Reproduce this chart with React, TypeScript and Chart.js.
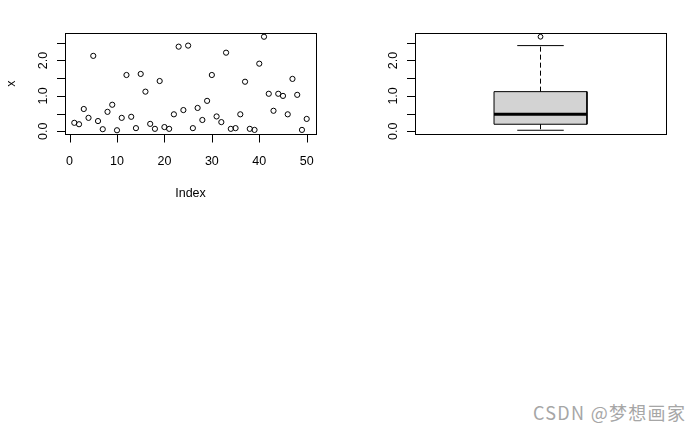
import React, { useEffect, useRef } from "react";
import { Chart, registerables } from "chart.js";

Chart.register(...registerables);

// ---------------- data ----------------
const indexValues = [
  1, 2, 3, 4, 5, 6, 7, 8, 9, 10,
  11, 12, 13, 14, 15, 16, 17, 18, 19, 20,
  21, 22, 23, 24, 25, 26, 27, 28, 29, 30,
  31, 32, 33, 34, 35, 36, 37, 38, 39, 40,
  41, 42, 43, 44, 45, 46, 47, 48, 49, 50,
];
const xValues = [
  0.24, 0.2, 0.63, 0.38, 2.13, 0.29, 0.06, 0.55, 0.75, 0.03,
  0.38, 1.59, 0.41, 0.09, 1.62, 1.12, 0.21, 0.07, 1.42, 0.12,
  0.07, 0.48, 2.39, 0.6, 2.42, 0.09, 0.66, 0.32, 0.86, 1.59,
  0.42, 0.26, 2.22, 0.07, 0.09, 0.48, 1.4, 0.07, 0.04, 1.91,
  2.67, 1.06, 0.58, 1.06, 1.0, 0.48, 1.48, 1.03, 0.04, 0.35,
];
const indexTicks = [0, 10, 20, 30, 40, 50];
const indexTickLabels = ["0", "10", "20", "30", "40", "50"];
const valueTicks = [0, 0.5, 1, 1.5, 2, 2.5];
const valueTickLabels = ["0.0", "", "1.0", "", "2.0", ""];
const xTitleText = "Index";
const yTitleText = "x";
const watermarkText = "CSDN @梦想画家";

// ---------------- helpers ----------------
const FONT = '12.5px "Liberation Sans", Arial, sans-serif';

function fivenum(values: number[]) {
  const s = [...values].sort((a, b) => a - b);
  const n = s.length;
  const n4 = Math.floor((n + 3) / 2) / 2;
  const d = [1, n4, (n + 1) / 2, n + 1 - n4, n];
  return d.map((v) => 0.5 * (s[Math.floor(v) - 1] + s[Math.ceil(v) - 1]));
}

function boxStats(values: number[]) {
  const [, q1, med, q3] = fivenum(values);
  const iqr = q3 - q1;
  const loF = q1 - 1.5 * iqr;
  const hiF = q3 + 1.5 * iqr;
  const inside = values.filter((v) => v >= loF && v <= hiF);
  const outliers = values.filter((v) => v < loF || v > hiF);
  return {
    q1,
    med,
    q3,
    lo: Math.min(...inside),
    hi: Math.max(...inside),
    outliers,
  };
}

function extRange(lo: number, hi: number) {
  const pad = (hi - lo) * 0.04;
  return [lo - pad, hi + pad];
}

const [yMin, yMax] = extRange(Math.min(...xValues), Math.max(...xValues));
const [ixMin, ixMax] = extRange(
  Math.min(...indexValues),
  Math.max(...indexValues)
);
const [bxMin, bxMax] = extRange(0.5, 1.5);

type AxisCfg = {
  xTicks?: number[];
  xLabels?: string[];
  xTitle?: string;
  yTicks: number[];
  yLabels: string[];
  yTitle?: string;
};

function rAxesPlugin(cfg: AxisCfg) {
  return {
    id: "rAxes",
    afterDraw(chart: any) {
      const ctx = chart.ctx as CanvasRenderingContext2D;
      const a = chart.chartArea;
      const xs = chart.scales.x;
      const ys = chart.scales.y;
      ctx.save();
      ctx.strokeStyle = "#000";
      ctx.fillStyle = "#000";
      ctx.lineWidth = 1;
      ctx.setLineDash([]);
      // frame
      ctx.strokeRect(a.left + 0.5, a.top + 0.5, a.right - a.left, a.bottom - a.top);
      ctx.font = FONT;
      // y axis
      ctx.beginPath();
      cfg.yTicks.forEach((v) => {
        const py = Math.round(ys.getPixelForValue(v)) + 0.5;
        ctx.moveTo(a.left - 8, py);
        ctx.lineTo(a.left + 0.5, py);
      });
      ctx.stroke();
      cfg.yTicks.forEach((v, i) => {
        const lab = cfg.yLabels[i];
        if (!lab) return;
        const py = ys.getPixelForValue(v);
        ctx.save();
        ctx.translate(a.left - 18, py);
        ctx.rotate(-Math.PI / 2);
        ctx.textAlign = "center";
        ctx.textBaseline = "alphabetic";
        ctx.fillText(lab, 0, 0);
        ctx.restore();
      });
      if (cfg.yTitle) {
        ctx.save();
        ctx.translate(a.left - 50, (a.top + a.bottom) / 2);
        ctx.rotate(-Math.PI / 2);
        ctx.textAlign = "center";
        ctx.textBaseline = "alphabetic";
        ctx.fillText(cfg.yTitle, 0, 0);
        ctx.restore();
      }
      // x axis
      if (cfg.xTicks && cfg.xLabels) {
        ctx.beginPath();
        cfg.xTicks.forEach((v) => {
          const px = Math.round(xs.getPixelForValue(v)) + 0.5;
          ctx.moveTo(px, a.bottom + 0.5);
          ctx.lineTo(px, a.bottom + 8.5);
        });
        ctx.stroke();
        ctx.textAlign = "center";
        ctx.textBaseline = "alphabetic";
        cfg.xTicks.forEach((v, i) => {
          const px = xs.getPixelForValue(v);
          ctx.fillText(cfg.xLabels![i], px, a.bottom + 30.5);
        });
      }
      if (cfg.xTitle) {
        ctx.textAlign = "center";
        ctx.textBaseline = "alphabetic";
        ctx.fillText(cfg.xTitle, (a.left + a.right) / 2, a.bottom + 62.5);
      }
      ctx.restore();
    },
  };
}

const commonLayout = {
  padding: { left: 65, top: 33, right: 34, bottom: 82 },
};

function ScatterPanel() {
  const ref = useRef<HTMLCanvasElement>(null);
  useEffect(() => {
    if (!ref.current) return;
    const chart = new Chart(ref.current, {
      type: "scatter",
      data: {
        datasets: [
          {
            label: "x",
            data: indexValues.map((i, k) => ({ x: i, y: xValues[k] })),
            pointStyle: "circle",
            pointRadius: 2.6,
            pointHoverRadius: 2.6,
            borderColor: "#000",
            backgroundColor: "rgba(0,0,0,0)",
            borderWidth: 1,
          },
        ],
      },
      options: {
        responsive: false,
        animation: false,
        devicePixelRatio: 1,
        layout: commonLayout,
        plugins: { legend: { display: false }, tooltip: { enabled: false } },
        scales: {
          x: { type: "linear", display: false, min: ixMin, max: ixMax },
          y: { type: "linear", display: false, min: yMin, max: yMax },
        },
      },
      plugins: [
        rAxesPlugin({
          xTicks: indexTicks,
          xLabels: indexTickLabels,
          xTitle: xTitleText,
          yTicks: valueTicks,
          yLabels: valueTickLabels,
          yTitle: yTitleText,
        }),
      ],
    } as any);
    return () => chart.destroy();
  }, []);
  return (
    <canvas
      ref={ref}
      width={350}
      height={216}
      style={{ position: "absolute", left: 0, top: 0, width: 350, height: 216 }}
    />
  );
}

function BoxPanel() {
  const ref = useRef<HTMLCanvasElement>(null);
  useEffect(() => {
    if (!ref.current) return;
    const st = boxStats(xValues);
    const center = 1;
    const half = 0.2;
    const capHalf = 0.1;
    const line = (pts: { x: number; y: number }[], extra: any = {}) => ({
      data: pts,
      showLine: true,
      pointRadius: 0,
      pointHoverRadius: 0,
      borderColor: "#000",
      borderWidth: 1,
      backgroundColor: "rgba(0,0,0,0)",
      fill: false,
      ...extra,
    });
    const chart = new Chart(ref.current, {
      type: "scatter",
      data: {
        datasets: [
          line(
            [
              { x: center - half, y: st.med },
              { x: center + half, y: st.med },
            ],
            { borderWidth: 3 }
          ),
          line(
            [
              { x: center, y: st.q3 },
              { x: center, y: st.hi },
            ],
            { borderDash: [5, 3] }
          ),
          line(
            [
              { x: center, y: st.q1 },
              { x: center, y: st.lo },
            ],
            { borderDash: [5, 3] }
          ),
          line([
            { x: center - capHalf, y: st.hi },
            { x: center + capHalf, y: st.hi },
          ]),
          line([
            { x: center - capHalf, y: st.lo },
            { x: center + capHalf, y: st.lo },
          ]),
          {
            data: st.outliers.map((v) => ({ x: center, y: v })),
            pointStyle: "circle",
            pointRadius: 2.4,
            pointHoverRadius: 2.4,
            borderColor: "#000",
            backgroundColor: "rgba(0,0,0,0)",
            borderWidth: 1,
          },
          line(
            [
              { x: center - half, y: st.q1 },
              { x: center - half, y: st.q3 },
              { x: center + half, y: st.q3 },
              { x: center + half, y: st.q1 },
              { x: center - half, y: st.q1 },
            ],
            { fill: "shape", backgroundColor: "#d3d3d3" }
          ),
        ],
      },
      options: {
        responsive: false,
        animation: false,
        devicePixelRatio: 1,
        layout: commonLayout,
        plugins: {
          legend: { display: false },
          tooltip: { enabled: false },
          filler: { drawTime: "beforeDatasetsDraw" },
        },
        scales: {
          x: { type: "linear", display: false, min: bxMin, max: bxMax },
          y: { type: "linear", display: false, min: yMin, max: yMax },
        },
      },
      plugins: [
        rAxesPlugin({
          yTicks: valueTicks,
          yLabels: valueTickLabels,
        }),
      ],
    } as any);
    return () => chart.destroy();
  }, []);
  return (
    <canvas
      ref={ref}
      width={350}
      height={216}
      style={{ position: "absolute", left: 350, top: 0, width: 350, height: 216 }}
    />
  );
}

export default function App() {
  return (
    <div
      style={{
        position: "fixed",
        left: 0,
        top: 0,
        width: 700,
        height: 432,
        background: "#fff",
        overflow: "hidden",
      }}
    >
      <ScatterPanel />
      <BoxPanel />
      <div
        style={{
          position: "absolute",
          left: 533,
          top: 402,
          fontFamily: '"Noto Sans CJK SC", "Noto Sans", sans-serif',
          fontSize: 18,
          letterSpacing: "1.3px",
          lineHeight: "20px",
          color: "#a6a6a6",
          whiteSpace: "nowrap",
        }}
      >
        {watermarkText}
      </div>
    </div>
  );
}
